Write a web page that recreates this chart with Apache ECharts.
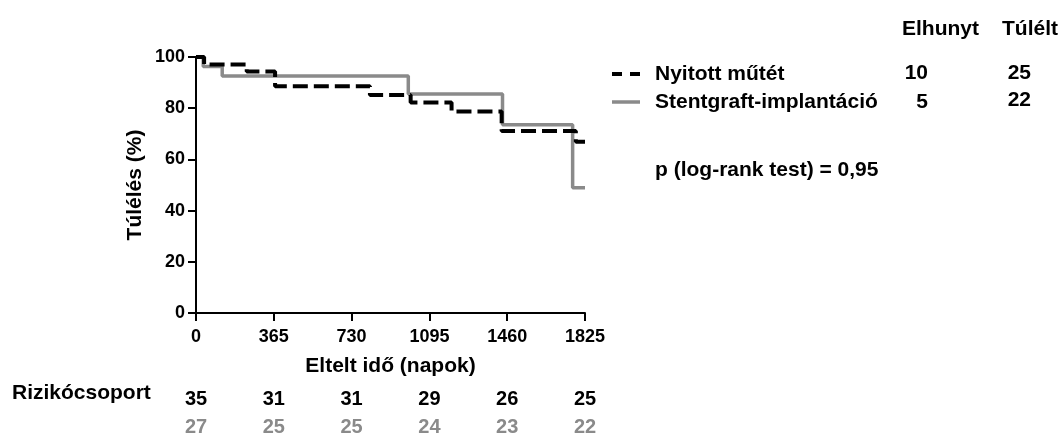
<!DOCTYPE html>
<html>
<head>
<meta charset="utf-8">
<script src="https://cdn.jsdelivr.net/npm/echarts@6/dist/echarts.min.js"></script>
<style>
html,body{margin:0;padding:0;background:#fff;}
#chart{width:1060px;height:437px;}
</style>
</head>
<body>
<div id="chart"></div>
<script>
// ---- data ----
const xTicks = [0, 365, 730, 1095, 1460, 1825];
const seriesNames = ['Nyitott műtét', 'Stentgraft-implantáció'];
const openDays = [0, 38, 238, 371, 816, 1007, 1199, 1434, 1782, 1825];
const openSurv = [100, 97.1, 94.3, 88.6, 85.2, 82.2, 78.7, 71.1, 66.9, 66.9];
const stentDays = [0, 34, 123, 996, 1438, 1767, 1825];
const stentSurv = [100, 96.3, 92.6, 85.5, 73.5, 48.9, 48.9];
const riskOpen = [35, 31, 31, 29, 26, 25];
const riskStent = [27, 25, 25, 24, 23, 22];
const deaths = [10, 5];
const survivors = [25, 22];
const colHeaders = ['Elhunyt', 'Túlélt'];
const pText = 'p (log-rank test) = 0,95';
const riskTitle = 'Rizikócsoport';
const xName = 'Eltelt idő (napok)';
const yName = 'Túlélés (%)';

const FONT = '"Liberation Sans", Arial, sans-serif';
const GRAY = '#8a8a8a';

const chart = echarts.init(document.getElementById('chart'), null, {renderer: 'canvas'});

function riskAxis(values, color, offset) {
  return {
    type: 'value', gridIndex: 0, position: 'bottom', offset: offset,
    min: 0, max: 1825, interval: 365,
    axisLine: {show: false}, axisTick: {show: false}, splitLine: {show: false},
    axisLabel: {
      margin: 8, color: color, fontSize: 20, fontWeight: 'bold', fontFamily: FONT,
      formatter: function (v) { const i = xTicks.indexOf(v); return i >= 0 ? String(values[i]) : ''; }
    }
  };
}

const textStyle = {fontSize: 21, fontWeight: 'bold', fontFamily: FONT, fill: '#000'};
function txt(str, x, y, align, extra) {
  return {type: 'text', x: x, y: y, style: Object.assign({text: str, align: align, verticalAlign: 'middle'}, textStyle, extra || {})};
}

const graphics = [
  txt(riskTitle, 12, 393, 'left'),
  txt(colHeaders[0], 902, 29, 'left'),
  txt(colHeaders[1], 1002, 29, 'left'),
  // legend
  {type: 'line', shape: {x1: 612, y1: 74, x2: 640, y2: 74}, style: {stroke: '#000', lineWidth: 4, lineDash: [10, 8]}},
  {type: 'line', shape: {x1: 612, y1: 102, x2: 640, y2: 102}, style: {stroke: GRAY, lineWidth: 3.5}},
  txt(seriesNames[0], 655, 74, 'left'),
  txt(seriesNames[1], 655, 102, 'left'),
  txt(String(deaths[0]), 928, 73, 'right'),
  txt(String(deaths[1]), 928, 102, 'right'),
  txt(String(survivors[0]), 1031, 73, 'right'),
  txt(String(survivors[1]), 1031, 100, 'right'),
  txt(pText, 655, 170, 'left')
];

const option = {
  backgroundColor: '#fff',
  animation: false,
  grid: {left: 196, right: 475, top: 57, bottom: 123},
  xAxis: [
    {
      type: 'value', min: 0, max: 1825, interval: 365,
      name: xName, nameLocation: 'middle', nameGap: 43,
      nameTextStyle: {fontSize: 21, fontWeight: 'bold', fontFamily: FONT, color: '#000'},
      axisLine: {show: true, lineStyle: {color: '#000', width: 2}},
      axisTick: {show: true, length: 8, lineStyle: {color: '#000', width: 2}},
      splitLine: {show: false},
      axisLabel: {margin: 15, color: '#000', fontSize: 18, fontWeight: 'bold', fontFamily: FONT,
        formatter: function (v) { return String(v); }}
    },
    riskAxis(riskOpen, '#000', 68),
    riskAxis(riskStent, GRAY, 96)
  ],
  yAxis: {
    type: 'value', min: 0, max: 100, interval: 20,
    name: yName, nameLocation: 'middle', nameGap: 50, nameRotate: 90,
    nameTextStyle: {fontSize: 21, fontWeight: 'bold', fontFamily: FONT, color: '#000'},
    axisLine: {show: true, lineStyle: {color: '#000', width: 2}},
    axisTick: {show: true, length: 8, lineStyle: {color: '#000', width: 2}},
    splitLine: {show: false},
    axisLabel: {margin: 11, color: '#000', fontSize: 18, fontWeight: 'bold', fontFamily: FONT}
  },
  series: [
    {
      name: seriesNames[1], type: 'line', step: 'end', showSymbol: false, xAxisIndex: 0,
      lineStyle: {color: GRAY, width: 3.5}, z: 2,
      data: stentDays.map((d, i) => [d, stentSurv[i]])
    },
    {
      name: seriesNames[0], type: 'line', step: 'end', showSymbol: false, xAxisIndex: 0,
      lineStyle: {color: '#000', width: 4, type: [15, 6]}, z: 3,
      data: openDays.map((d, i) => [d, openSurv[i]])
    }
  ],
  graphic: graphics
};
chart.setOption(option);
</script>
</body>
</html>
